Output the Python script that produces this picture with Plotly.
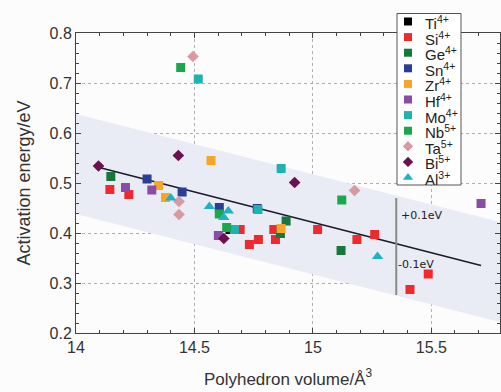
import plotly.graph_objects as go

# ---- data ----
series_names = ["Ti<sup>4+</sup>", "Si<sup>4+</sup>", "Ge<sup>4+</sup>", "Sn<sup>4+</sup>", "Zr<sup>4+</sup>",
                "Hf<sup>4+</sup>", "Mo<sup>4+</sup>", "Nb<sup>5+</sup>", "Ta<sup>5+</sup>", "Bi<sup>5+</sup>",
                "Al<sup>3+</sup>"]
Ti_x = [14.65];  Ti_y = [0.407]
Si_x = [14.143, 14.223, 14.693, 14.732, 14.770, 14.835, 14.842, 15.020, 15.186, 15.261, 15.487, 15.410]
Si_y = [0.487, 0.477, 0.407, 0.377, 0.387, 0.407, 0.387, 0.407, 0.387, 0.397, 0.318, 0.287]
Ge_x = [14.147, 14.887, 14.863, 15.119]
Ge_y = [0.513, 0.424, 0.399, 0.365]
Sn_x = [14.300, 14.448, 14.605, 14.765]
Sn_y = [0.508, 0.482, 0.451, 0.449]
Zr_x = [14.349, 14.378, 14.570, 14.866]
Zr_y = [0.495, 0.471, 0.545, 0.409]
Hf_x = [14.209, 14.320, 14.601, 15.710]
Hf_y = [0.491, 0.486, 0.395, 0.459]
Mo_x = [14.516, 14.866, 14.768, 14.669]
Mo_y = [0.708, 0.529, 0.447, 0.407]
Nb_x = [14.442, 14.605, 14.636, 15.122]
Nb_y = [0.731, 0.438, 0.411, 0.466]
Ta_x = [14.494, 14.435, 14.435, 15.176]
Ta_y = [0.753, 0.463, 0.437, 0.485]
Bi_x = [14.095, 14.432, 14.923, 14.624]
Bi_y = [0.534, 0.555, 0.501, 0.389]
Al_x = [14.400, 14.563, 14.624, 14.643, 15.273]
Al_y = [0.470, 0.453, 0.431, 0.444, 0.353]

fit_x = [14.09, 15.71]
fit_y = [0.532, 0.335]
band_x = [14.0, 15.79]
band_center = [0.538, 0.322]
band_halfwidth = 0.1
marker_line_x = 15.352
marker_line_y = [0.276, 0.470]
label_plus_y = 0.436
label_minus_y = 0.338

xs = [Ti_x, Si_x, Ge_x, Sn_x, Zr_x, Hf_x, Mo_x, Nb_x, Ta_x, Bi_x, Al_x]
ys = [Ti_y, Si_y, Ge_y, Sn_y, Zr_y, Hf_y, Mo_y, Nb_y, Ta_y, Bi_y, Al_y]
colors = ["#000000", "#ee2a2e", "#17783c", "#2c3d98", "#f7a526", "#8a4ca6",
          "#1cb3b0", "#19a94c", "#d89aa0", "#6b1150", "#1fb2c4"]
symbols = ["square"] * 8 + ["diamond", "diamond", "triangle-up"]
sizes = [9] * 8 + [9, 9, 10]

W, H = 501, 392
ML, MR, MT, MB = 76, 1, 13, 59          # outer area (legend reaches up to y=13)
PLOT_TOP = 33                            # top of the data axes in pixels

fig = go.Figure()

# band
fig.add_trace(go.Scatter(
    x=band_x + band_x[::-1],
    y=[c + band_halfwidth for c in band_center] + [c - band_halfwidth for c in band_center[::-1]],
    fill="toself", fillcolor="#e9ebf5", line=dict(width=0), mode="lines",
    showlegend=False, hoverinfo="skip"))

# fit line
fig.add_trace(go.Scatter(x=fit_x, y=fit_y, mode="lines",
                         line=dict(color="#1a1a2a", width=1.5), showlegend=False))

# vertical +-0.1 marker
fig.add_trace(go.Scatter(x=[marker_line_x, marker_line_x], y=marker_line_y, mode="lines",
                         line=dict(color="#8a8a8a", width=2), showlegend=False))

for name, x, y, c, s, sz in zip(series_names, xs, ys, colors, symbols, sizes):
    fig.add_trace(go.Scatter(x=x, y=y, mode="markers", name=name, showlegend=False,
                             marker=dict(color=c, symbol=s, size=sz, line=dict(width=0))))

fig.add_annotation(x=marker_line_x + 0.01, y=label_plus_y, text="+0.1eV", showarrow=False,
                   xanchor="left", yanchor="middle",
                   font=dict(family="DejaVu Sans", size=11, color="#222"))
fig.add_annotation(x=marker_line_x + 0.0, y=label_minus_y, text="-0.1eV", showarrow=False,
                   xanchor="left", yanchor="middle",
                   font=dict(family="DejaVu Sans", size=11, color="#222"))

# ---- manual legend on a pixel-unit overlay subplot (x2/y2) ----
leg_left, leg_right, leg_top, leg_bottom = 397, 461, 13.5, 185
leg_marker_x = 408
leg_text_x = 423
leg_first_y, leg_step = 21.5, 15.6
leg_ys = [leg_first_y + i * leg_step for i in range(len(series_names))]

fig.add_trace(go.Scatter(x=[leg_left, leg_right, leg_right, leg_left, leg_left],
                         y=[leg_top, leg_top, leg_bottom, leg_bottom, leg_top],
                         xaxis="x2", yaxis="y2", mode="lines", fill="toself",
                         fillcolor="#ffffff", line=dict(color="#555", width=1),
                         showlegend=False, hoverinfo="skip"))
for name, c, s, sz, ly in zip(series_names, colors, symbols, sizes, leg_ys):
    fig.add_trace(go.Scatter(x=[leg_marker_x], y=[ly], xaxis="x2", yaxis="y2", mode="markers",
                             marker=dict(color=c, symbol=s, size=sz - 1, line=dict(width=0)),
                             cliponaxis=False, showlegend=False, hoverinfo="skip"))
    fig.add_annotation(x=leg_text_x, y=ly + 1, xref="x2", yref="y2", text=name, showarrow=False,
                       xanchor="left", yanchor="middle",
                       font=dict(family="Liberation Sans", size=15, color="#222"))

axis_common = dict(showline=True, linecolor="#444", linewidth=1, mirror="ticks",
                   ticks="inside", ticklen=5, tickcolor="#444",
                   showgrid=True, gridcolor="#b0b0b0", griddash="dot", gridwidth=1,
                   zeroline=False, tickfont=dict(family="Liberation Sans", size=16, color="#333"))

full_h = H - MT - MB
fig.update_layout(
    xaxis=dict(range=[14, 15.79], tickvals=[14, 14.5, 15, 15.5],
               ticktext=["14", "14.5", "15", "15.5"],
               minor=dict(dtick=0.1, ticks="inside", ticklen=3, tickcolor="#444", showgrid=False),
               title=dict(text="Polyhedron volume/Å<sup>3</sup>", standoff=17,
                          font=dict(family="Liberation Sans", size=17, color="#333")),
               domain=[0, 1], anchor="y", **axis_common),
    yaxis=dict(range=[0.2, 0.8], dtick=0.1, tickformat=".1f",
               minor=dict(dtick=0.02, ticks="inside", ticklen=3, tickcolor="#444", showgrid=False),
               title=dict(text="Activation energy/eV", standoff=14,
                          font=dict(family="Liberation Sans", size=18, color="#333")),
               domain=[0, (H - MB - PLOT_TOP) / full_h], anchor="x", **axis_common),
    xaxis2=dict(range=[ML, W - MR], domain=[0, 1], anchor="y2", visible=False, fixedrange=True),
    yaxis2=dict(range=[H - MB, MT], domain=[0, 1], anchor="x2", visible=False, fixedrange=True),
    width=W, height=H,
    margin=dict(l=ML, r=MR, t=MT, b=MB),
    paper_bgcolor="#fcfcfc", plot_bgcolor="rgba(0,0,0,0)",
    showlegend=False,
)

fig.write_html("out.html")
